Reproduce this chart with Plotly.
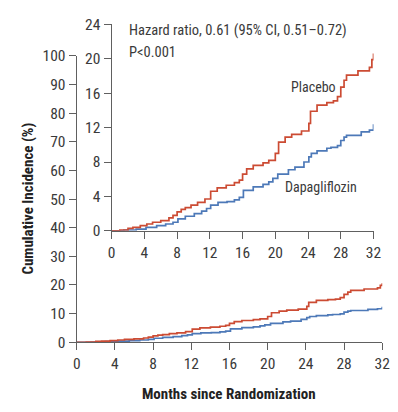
import plotly.graph_objects as go

# ---- data (months, cumulative incidence %) ----
placebo_months = [0, 1, 2, 2.6, 3.5, 4.3, 5, 6, 7, 7.5, 8, 8.5, 9, 9.7, 10.5, 11.4, 12.1, 12.9,
                  14, 15, 15.6, 16, 16.5, 17.3, 18.5, 19.2, 20, 20.4, 21.2, 22, 23.2, 24.1, 24.3,
                  25.1, 26.3, 27.1, 27.6, 28, 28.4, 28.7, 30.1, 31.5, 31.8, 32]
placebo_values = [0, 0.1, 0.3, 0.4, 0.6, 0.8, 1.0, 1.2, 1.5, 1.8, 2.2, 2.5, 2.7, 3.0, 3.3, 3.7, 4.6, 5.0,
                  5.3, 5.6, 5.9, 6.6, 7.2, 7.6, 7.9, 8.2, 9.0, 10.3, 10.9, 11.2, 11.6, 12.5, 13.9,
                  14.6, 14.9, 15.1, 15.6, 16.7, 17.5, 18.1, 18.6, 19.0, 19.9, 20.6]

dapa_months = [0, 1.5, 3, 4.2, 5.5, 6.6, 7.5, 8.1, 9, 10.1, 11, 11.6, 12.1, 13, 14.1, 15, 15.6, 16.1,
               17.3, 18.5, 19.2, 19.7, 20.3, 21.6, 22.4, 23.5, 24.1, 24.4, 25.1, 26.3, 26.8, 27.6,
               28.0, 28.4, 28.7, 30.5, 31.5, 32]
dapa_values = [0, 0.1, 0.2, 0.4, 0.6, 0.8, 1.0, 1.4, 1.7, 2.0, 2.3, 2.6, 3.0, 3.3, 3.4, 3.6, 3.9, 4.7,
               5.1, 5.4, 5.7, 6.1, 6.6, 7.1, 7.4, 8.0, 8.6, 9.0, 9.3, 9.6, 9.7, 9.9,
               10.5, 10.9, 11.1, 11.5, 11.7, 12.4]

x_ticks = [0, 4, 8, 12, 16, 20, 24, 28, 32]
main_y_ticks = [0, 10, 20, 30, 40, 50, 60, 70, 80, 90, 100]
inset_y_ticks = [0, 4, 8, 12, 16, 20, 24]

RED = "#cc4b33"
BLUE = "#4d79b8"
AXC = "#606060"
TXT = "#3a3a3a"
FONT = "Roboto Condensed, Noto Sans Condensed, Noto Sans ExtraCondensed, DejaVu Sans Condensed, sans-serif"

W, H = 398, 412
def px(x): return x / W
def py(y): return 1 - y / H

fig = go.Figure()
for xa, ya in (("x", "y"), ("x2", "y2")):
    fig.add_trace(go.Scatter(x=dapa_months, y=dapa_values, mode="lines", line_shape="hv",
                             line=dict(color=BLUE, width=1.7), xaxis=xa, yaxis=ya,
                             showlegend=False, hoverinfo="skip"))
    fig.add_trace(go.Scatter(x=placebo_months, y=placebo_values, mode="lines", line_shape="hv",
                             line=dict(color=RED, width=1.7), xaxis=xa, yaxis=ya,
                             showlegend=False, hoverinfo="skip"))

axis_common = dict(showgrid=False, zeroline=False, showline=True, linecolor=AXC, linewidth=1.3,
                   ticks="outside", ticklen=7, tickwidth=1.3, tickcolor=AXC,
                   tickfont=dict(family=FONT, size=15.5, color=TXT))

fig.update_layout(
    width=W, height=H, margin=dict(l=0, r=0, t=0, b=0),
    paper_bgcolor="white", plot_bgcolor="rgba(0,0,0,0)",
    xaxis=dict(domain=[px(75), px(390)], range=[0, 32], tickvals=x_ticks, anchor="y",
               **axis_common),
    yaxis=dict(domain=[py(348.5), py(49)], range=[0, 100], tickvals=main_y_ticks, anchor="x",
               **axis_common),
    xaxis2=dict(domain=[px(111), px(381)], range=[0, 32], tickvals=x_ticks, anchor="y2",
                **axis_common),
    yaxis2=dict(domain=[py(232), py(16)], range=[0, 24], tickvals=inset_y_ticks, anchor="x2",
                **axis_common),
    annotations=[
        dict(text="<b>Months since Randomization</b>", x=px(232), y=py(403), xref="paper",
             yref="paper", xanchor="center", yanchor="middle", showarrow=False,
             font=dict(family=FONT, size=15, color="#222222")),
        dict(text="<b>Cumulative Incidence (%)</b>", x=px(25), y=py(198), xref="paper",
             yref="paper", xanchor="center", yanchor="middle", showarrow=False, textangle=-90,
             font=dict(family=FONT, size=15, color="#222222")),
        dict(text="Hazard ratio, 0.61 (95% CI, 0.51–0.72)", x=px(127), y=py(22), xref="paper",
             yref="paper", xanchor="left", yanchor="middle", showarrow=False,
             font=dict(family=FONT, size=14.5, color=TXT)),
        dict(text="P<0.001", x=px(127), y=py(46), xref="paper", yref="paper",
             xanchor="left", yanchor="middle", showarrow=False,
             font=dict(family=FONT, size=14.5, color=TXT)),
        dict(text="Placebo", x=px(319.5), y=py(82), xref="paper", yref="paper",
             xanchor="center", yanchor="middle", showarrow=False,
             font=dict(family=FONT, size=14, color=TXT)),
        dict(text="Dapagliflozin", x=px(327), y=py(186), xref="paper", yref="paper",
             xanchor="center", yanchor="middle", showarrow=False,
             font=dict(family=FONT, size=14, color=TXT)),
    ],
)

fig.write_html("out.html")
